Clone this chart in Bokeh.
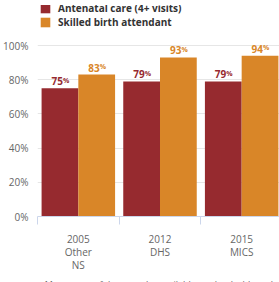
from bokeh.plotting import figure
from bokeh.models import (ColumnDataSource, Range1d, LinearAxis,
                          FixedTicker, PrintfTickFormatter, Legend, LegendItem, Title)
from bokeh.core.properties import value
from bokeh.embed import file_html
from bokeh.resources import INLINE

categories = ["2005\nOther\nNS", "2012\nDHS", "2015\nMICS"]
antenatal = [75, 79, 79]
skilled = [83, 93, 94]
series_names = ["Antenatal care (4+ visits)", "Skilled birth attendant"]
y_ticks = [0, 20, 40, 60, 80, 100]
footnote = "More years of data may be available on the dashboard."

RED = "#962a2f"
ORANGE = "#d98628"
FONT = "Open Sans"
BAR_W = 0.45

n = len(categories)
centers = [i + 0.5 for i in range(n)]
bounds = list(range(n + 1))

src = ColumnDataSource(dict(
    xa=[c - BAR_W / 2 for c in centers],
    xs=[c + BAR_W / 2 for c in centers],
    a=antenatal,
    s=skilled,
    a_txt=[str(v) for v in antenatal],
    s_txt=[str(v) for v in skilled],
    pct=["%"] * n,
))

# frame extends above 100% to host the legend
p = figure(frame_width=245, frame_height=211, x_range=Range1d(0, n),
           y_range=Range1d(0, 123.4), output_backend="svg", toolbar_location=None,
           x_axis_location=None, min_border_left=26, min_border_right=0,
           min_border_top=5, min_border_bottom=0)
p.outline_line_color = None
p.background_fill_color = "white"

# y axis
yax = p.yaxis[0]
yax.ticker = FixedTicker(ticks=y_ticks)
yax.formatter = PrintfTickFormatter(format="%d%%")
yax.axis_line_color = None
yax.major_tick_line_color = None
yax.minor_tick_line_color = None
yax.major_label_standoff = 3
yax.major_label_text_font = FONT
yax.major_label_text_font_size = "10px"
yax.major_label_text_color = "#666666"

p.ygrid.ticker = FixedTicker(ticks=y_ticks)
p.ygrid.grid_line_color = "#e6e6e6"
p.xgrid.grid_line_color = None

# category axis: labels at centres, tick marks at boundaries
cax = LinearAxis(ticker=FixedTicker(ticks=centers, minor_ticks=bounds),
                 major_label_overrides={c: lab for c, lab in zip(centers, categories)},
                 major_tick_line_color=None, major_tick_out=0, major_tick_in=0,
                 minor_tick_line_color="#ccd6eb", minor_tick_out=8, minor_tick_in=0,
                 axis_line_color="#ccd6eb",
                 major_label_text_font=FONT, major_label_text_font_size="10px",
                 major_label_text_color="#666666", major_label_standoff=7)
cax.major_label_text_line_height = 0.95
p.add_layout(cax, "below")

r1 = p.vbar(x="xa", top="a", width=BAR_W, source=src, fill_color=RED, line_color=None)
r2 = p.vbar(x="xs", top="s", width=BAR_W, source=src, fill_color=ORANGE, line_color=None)

for xcol, col, txt, colr in [("xa", "a", "a_txt", RED), ("xs", "s", "s_txt", ORANGE)]:
    p.text(x=xcol, y=col, text=txt, source=src,
           text_align="right", text_baseline="bottom", x_offset=3, y_offset=-3,
           text_font=value(FONT), text_font_style="bold", text_font_size="10px",
           text_color=colr)
    p.text(x=xcol, y=col, text="pct", source=src,
           text_align="left", text_baseline="bottom", x_offset=3, y_offset=-3.5,
           text_font=value(FONT), text_font_style="bold", text_font_size="7px",
           text_color=colr)

legend = Legend(items=[LegendItem(label=series_names[0], renderers=[r1]),
                       LegendItem(label=series_names[1], renderers=[r2])],
                location=(2, 187), orientation="vertical",
                glyph_width=12, glyph_height=12, label_height=12, spacing=0,
                padding=0, margin=0, label_standoff=7,
                label_text_font=FONT, label_text_font_style="bold",
                label_text_font_size="10px", label_text_color="#333333",
                border_line_color=None, background_fill_alpha=0)
p.add_layout(legend, "center")

t = Title(text=footnote, align="center", text_font=FONT, text_font_size="9px",
          text_font_style="normal", text_color="#666666", standoff=0,
          text_line_height=0.7)
p.add_layout(t, "below")

open("out.html", "w").write(file_html(p, INLINE))
